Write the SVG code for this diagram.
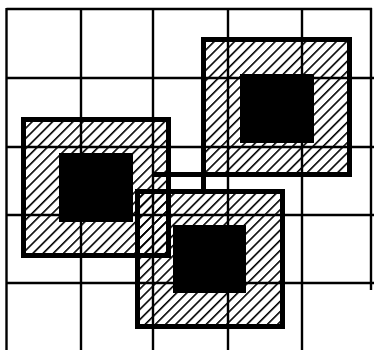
<svg xmlns="http://www.w3.org/2000/svg" width="374" height="350" viewBox="0 0 374 350">
  <defs>
    <pattern id="hatch" patternUnits="userSpaceOnUse" width="7.2" height="7.2" patternTransform="rotate(45)">
      <rect x="0" y="0" width="1.6" height="7.2" fill="#000"/>
    </pattern>
  </defs>
  <style>
    .grid { stroke: #000; stroke-width: 2.4; fill: none; }
    .hatch { fill: url(#hatch); stroke: none; }
    .border { fill: none; stroke: #000; stroke-width: 5; }
    .core { fill: #000; }
  </style>
  <rect x="0" y="0" width="374" height="350" fill="#fff"/>

  <g id="hatching">
    <rect class="hatch" x="24" y="120" width="144" height="135"/>
    <rect class="hatch" x="204" y="40" width="145" height="134"/>
    <rect class="hatch" x="138" y="192" width="144" height="134"/>
  </g>

  <g id="grid">
    <line class="grid" x1="6.5" y1="9" x2="372" y2="9" stroke-width="3"/>
    <line class="grid" x1="6.5" y1="78" x2="374" y2="78"/>
    <line class="grid" x1="6.5" y1="147" x2="374" y2="147"/>
    <line class="grid" x1="6.5" y1="215" x2="374" y2="215"/>
    <line class="grid" x1="6.5" y1="283" x2="374" y2="283"/>
    <line class="grid" x1="6.5" y1="8" x2="6.5" y2="350" stroke-width="3"/>
    <line class="grid" x1="81" y1="8" x2="81" y2="350"/>
    <line class="grid" x1="153" y1="8" x2="153" y2="350"/>
    <line class="grid" x1="228" y1="8" x2="228" y2="350"/>
    <line class="grid" x1="302" y1="8" x2="302" y2="350"/>
    <line class="grid" x1="371" y1="8" x2="371" y2="290" stroke-width="1.2"/>
  </g>

  <g id="square-a">
    <rect class="border" x="23.5" y="119.5" width="145" height="136"/>
    <rect class="core" x="59" y="153" width="74" height="69"/>
  </g>

  <g id="square-b">
    <rect class="border" x="203.5" y="39.5" width="146" height="135"/>
    <line class="border" x1="153" y1="174.5" x2="204" y2="174.5"/>
    <line class="border" x1="203.5" y1="174" x2="203.5" y2="192"/>
    <rect class="core" x="240" y="74" width="74" height="69"/>
  </g>

  <g id="square-c">
    <rect class="border" x="137.5" y="191.5" width="145" height="135"/>
    <rect class="core" x="173" y="225" width="73" height="68"/>
  </g>

  <g id="connectors"></g>
</svg>
